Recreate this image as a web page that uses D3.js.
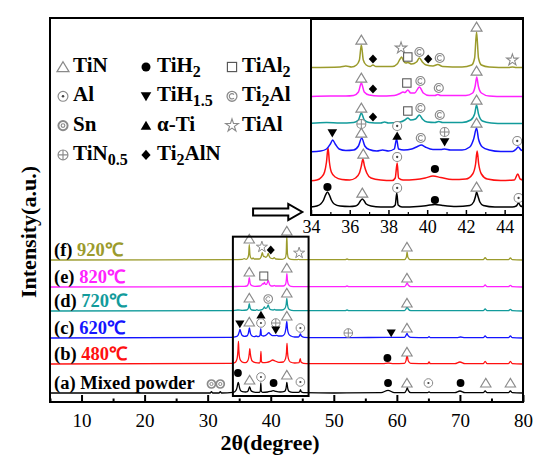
<!DOCTYPE html>
<html>
<head>
<meta charset="utf-8">
<script src="https://cdn.jsdelivr.net/npm/d3@7"></script>
<style>
body{margin:0;background:#fff;}
</style>
</head>
<body>
<div id="chart"></div>
<script>
// samples, bottom to top
const sampleTags = ["(a)", "(b)", "(c)", "(d)", "(e)", "(f)"];
const sampleNames = ["Mixed powder", "480℃", "620℃", "720℃", "820℃", "920℃"];
const sampleColors = ["#000000", "#ff1010", "#1414ff", "#129b9b", "#ff22ff", "#9b9b2c"];
const mainOffsets = [13.5, 57, 96, 136.5, 172.5, 213];
const insetOffsets = [7, 33, 62, 91, 118, 147];

const mainTicks = [10, 20, 30, 40, 50, 60, 70, 80];
const mainMinor = [5, 15, 25, 35, 45, 55, 65, 75];
const insetTicks = [34, 36, 38, 40, 42, 44];
const insetMinor = [35, 37, 39, 41, 43];

// [2theta, intensity]
const patternA = [[5,0],[29,0],[30.4,0],[30.6,2],[30.8,0],[31.8,0],[32.0,2],[32.2,0],[34.0,1],[34.3,2],[34.5,4],[34.65,8],[34.75,13],[34.85,16],[34.95,13],[35.05,8],[35.2,4],[35.5,2],[36.0,1.5],[36.3,2],[36.45,4],[36.55,7],[36.65,9],[36.75,7],[36.85,4],[37.1,2],[37.6,1],[38.2,1],[38.35,3],[38.43,15],[38.5,3],[38.7,1],[39.5,1.5],[40.0,2.5],[40.4,3.5],[40.8,2.5],[41.5,1.5],[42.2,2.5],[42.4,6],[42.5,12],[42.55,16],[42.62,12],[42.72,6],[42.9,2.5],[43.5,1],[44.4,1],[44.6,2],[44.72,5],[44.82,2],[45.2,0.5],[50,0],[57.5,0.5],[58.6,4],[59.6,0.5],[61.2,0.5],[61.5,4],[61.65,8],[61.8,4],[62.2,0.5],[64.9,0.5],[65.1,1.5],[65.3,0.5],[69.2,0.5],[70.0,3],[70.8,0.5],[73.7,0.5],[74.0,3],[74.3,0.5],[77.7,0.5],[78.0,3],[78.3,0.5],[80,0]];
const patternB = [[5,0],[33.8,1],[34.3,2],[34.55,5],[34.7,10],[34.8,20],[34.88,34],[34.95,20],[35.05,10],[35.25,5],[35.6,2.5],[36.0,2],[36.3,4],[36.5,9],[36.6,16],[36.68,23],[36.76,16],[36.88,9],[37.1,4],[37.6,2],[38.2,1.5],[38.35,4],[38.45,19],[38.52,4],[38.75,2],[39.4,2.5],[39.9,4],[40.3,6],[40.7,4.5],[41.3,2.5],[42.0,3],[42.35,8],[42.5,18],[42.58,31],[42.66,18],[42.8,8],[43.1,3],[43.8,1.5],[44.5,2],[44.68,8],[44.8,3],[45.2,1],[46,0.5],[57.8,0.5],[58.6,1.5],[59.5,0.5],[61.2,1],[61.45,5],[61.62,13],[61.8,5],[62.2,1],[64.9,0.5],[65.1,3],[65.3,0.5],[69.2,0.5],[70,3],[70.8,0.5],[73.7,0.5],[74.0,4],[74.3,0.5],[77.7,0.5],[78.0,4],[78.3,0.5],[80,0]];
const patternC = [[5,0],[33.8,1],[34.5,2],[34.8,4],[35.0,9],[35.12,13],[35.25,9],[35.45,4],[35.8,2.5],[36.2,3],[36.45,7],[36.62,15],[36.78,7],[37.0,3.5],[37.4,2],[37.7,3],[38.0,2],[38.3,4],[38.42,14],[38.52,4],[38.8,3],[39.2,4],[39.5,6.5],[39.7,8],[39.9,6],[40.3,3.5],[40.7,3.5],[40.9,4],[41.2,3],[41.8,3],[42.2,6],[42.4,14],[42.55,25],[42.65,14],[42.85,6],[43.2,3],[43.8,1.5],[44.4,1.5],[44.6,4],[44.7,6],[44.85,3],[45.3,1],[47,0.5],[52.3,0.5],[58.8,1],[61.2,1],[61.45,4],[61.6,7],[61.75,4],[62.2,1],[64.9,0.5],[65.1,2],[65.3,0.5],[69.5,0.5],[70.1,1.5],[70.8,0.5],[73.7,0.5],[74,3],[74.3,0.5],[77.7,0.5],[78.0,3],[78.3,0.5],[80,0]];
const patternD = [[5,0],[33.8,0.5],[34.8,1.5],[35.5,1],[36.2,1.5],[36.45,4],[36.6,11],[36.75,4],[37.0,1.5],[37.6,1],[37.8,2],[38.0,1],[38.6,2],[38.85,4],[39.0,6],[39.15,4],[39.4,5],[39.6,9],[39.75,5],[40.0,2],[40.4,1.5],[40.6,2.5],[40.8,1.5],[41.8,1.5],[42.25,4],[42.45,10],[42.55,19],[42.65,10],[42.85,3],[43.3,1],[44.0,0.5],[45,0.5],[51.8,0.5],[52.1,1.5],[52.4,0.5],[61.2,0.5],[61.45,3],[61.62,6],[61.8,3],[62.2,0.5],[73.7,0.5],[74,3],[74.3,0.5],[77.7,0.5],[78,2.5],[78.3,0.5],[80,0]];
const patternE = [[5,0],[34,0.5],[35,1],[35.8,1],[36.2,1.5],[36.45,5],[36.6,14],[36.75,5],[37.0,2],[37.5,1],[38.3,1.5],[38.6,3.5],[38.75,5],[38.85,4.5],[39.0,7],[39.15,4],[39.35,4],[39.6,10],[39.8,4],[40.1,1.5],[40.4,1.5],[40.55,2.5],[40.7,1.5],[42.0,1.5],[42.35,4],[42.48,11],[42.56,20],[42.64,11],[42.8,4],[43.2,1],[44,0.5],[45,0.5],[51.8,0.5],[52.1,1.5],[52.4,0.5],[61.2,0.5],[61.45,3],[61.62,6],[61.8,3],[62.2,0.5],[73.7,0.5],[74,3],[74.3,0.5],[77.7,0.5],[78,2.5],[78.3,0.5],[80,0]];
const patternF = [[5,0],[34,0.5],[35.5,1],[35.8,2],[36.1,1],[36.35,3],[36.5,8],[36.6,23],[36.7,8],[36.85,3],[37.05,1.5],[37.2,3],[37.35,1.5],[38.2,1.5],[38.45,4],[38.6,9],[38.68,11],[38.78,7],[38.9,5],[39.0,5.5],[39.2,4],[39.45,6],[39.6,10],[39.75,6],[39.95,3],[40.3,2],[40.55,3.5],[40.8,1.5],[41.8,1],[42.3,3],[42.45,10],[42.55,36],[42.65,10],[42.8,3],[43.2,1],[44.2,0.5],[44.4,1],[44.6,0.5],[46,0.5],[51.8,0.5],[52.1,1.5],[52.4,0.5],[61.2,0.5],[61.5,4],[61.62,12],[61.75,4],[62.1,0.5],[73.7,0.5],[74,3.5],[74.3,0.5],[77.7,0.5],[78.0,3],[78.3,0.5],[80,0]];
const patterns = [patternA, patternB, patternC, patternD, patternE, patternF];

// phase marks: [sample, 2theta, mark, level above the curve's offset]
const mainMarks = [
  [0,30.6,"sn",13.5],[0,32.0,"sn",13.5],[0,34.8,"dot",30],[0,36.65,"tri",19.5],[0,38.45,"odot",24],[0,40.45,"dot",15],[0,42.55,"tri",27],[0,44.7,"odot",16.5],
  [0,58.6,"dot",15],[0,61.6,"tri",15],[0,65.0,"odot",15],[0,70.1,"dot",15],[0,74.1,"tri",15],[0,78.0,"tri",15],
  [1,58.5,"dot",9],[1,61.6,"tri",18],
  [2,35.1,"vtri",21],[2,36.6,"tri",24],[2,38.45,"atri",34.5],[2,38.45,"odot",22.5],[2,40.8,"oplus",22.5],[2,40.8,"vtri",12],[2,42.55,"tri",33],[2,44.7,"odot",15],
  [2,52.3,"oplus",7.5],[2,59.1,"vtri",7.5],[2,61.6,"tri",15],
  [3,36.6,"tri",19.5],[3,39.6,"cc",18],[3,42.55,"tri",27],[3,61.6,"tri",12],
  [4,36.6,"tri",22.5],[4,38.9,"sq",16.5],[4,42.55,"tri",28.5],[4,61.6,"tri",13.5],
  [5,36.6,"tri",31.5],[5,38.6,"star",19.5],[5,40.0,"dia",15],[5,42.55,"tri",43.5],[5,44.5,"star",10.5],[5,61.6,"tri",19.5]
];
const insetMarks = [
  [0,34.85,"dot",21],[0,36.65,"tri",15],[0,38.45,"odot",20],[0,40.4,"dot",8],[0,42.55,"tri",21],[0,44.72,"odot",10],
  [1,36.7,"tri",28],[1,38.45,"odot",25],[1,40.4,"dot",13],
  [2,35.1,"vtri",20],[2,36.6,"oplus",29],[2,36.6,"tri",20],[2,38.45,"odot",27],[2,38.45,"atri",17],[2,39.67,"cc",15],[2,40.9,"oplus",21],[2,40.9,"vtri",11],[2,42.55,"tri",30],[2,44.65,"odot",12],
  [3,36.6,"tri",16],[3,37.2,"dia",7],[3,39.0,"sq",13],[3,39.65,"cc",16],[3,40.65,"cc",9],[3,42.55,"tri",24],
  [4,36.6,"tri",19],[4,37.2,"dia",8],[4,38.95,"sq",14],[4,39.65,"cc",16],[4,40.6,"cc",9],[4,42.55,"tri",26],
  [5,36.6,"tri",28],[5,37.2,"dia",9],[5,38.65,"star",20],[5,39.0,"sq",11],[5,39.6,"cc",16],[5,40.05,"dia",9],[5,40.65,"cc",10],[5,42.55,"tri",41],[5,44.4,"star",8]
];

// legend, column by column
const legendMarks = ["tri","odot","sn","oplus","dot","vtri","atri","dia","sq","cc","star"];
const legendLabels = [
  [["TiN",0]], [["Al",0]], [["Sn",0]], [["TiN",0],["0.5",1]],
  [["TiH",0],["2",1]], [["TiH",0],["1.5",1]], [["α-Ti",0]], [["Ti",0],["2",1],["AlN",0]],
  [["TiAl",0],["2",1]], [["Ti",0],["2",1],["Al",0]], [["TiAl",0]]
];

const W = 533, H = 458;
const FONT = "Liberation Serif";
const svg = d3.select("#chart").append("svg").attr("width", W).attr("height", H)
  .attr("font-family", FONT);

const x = d3.scaleLinear().domain([5, 80]).range([50, 523]);
const y = d3.scaleLinear().domain([0, 576]).range([402, 18]);
const xi = d3.scaleLinear().domain([34, 45]).range([311, 524]);
const yi = d3.scaleLinear().domain([0, 196]).range([215, 19]);

function drawMark(g, type, px, py, k) {
  const s = g.append("g").attr("transform", `translate(${px},${py}) scale(${k})`);
  const grey = "#8a8a8a";
  if (type === "tri") {
    s.append("path").attr("d", "M0,-4.6L5.2,4L-5.2,4Z").attr("fill", "#fff").attr("stroke", grey).attr("stroke-width", 1.1);
  } else if (type === "dot") {
    s.append("circle").attr("r", 3.9).attr("fill", "#000");
  } else if (type === "sq") {
    s.append("rect").attr("x", -4).attr("y", -4).attr("width", 8).attr("height", 8)
      .attr("fill", "#fff").attr("stroke", "#555").attr("stroke-width", 1);
  } else if (type === "odot") {
    s.append("circle").attr("r", 4.3).attr("fill", "#fff").attr("stroke", grey).attr("stroke-width", 1);
    s.append("circle").attr("r", 1.1).attr("fill", "#444");
  } else if (type === "vtri") {
    s.append("path").attr("d", "M-4.6,-3.6L4.6,-3.6L0,4.2Z").attr("fill", "#000");
  } else if (type === "atri") {
    s.append("path").attr("d", "M0,-4.2L4.6,3.6L-4.6,3.6Z").attr("fill", "#000");
  } else if (type === "cc") {
    s.append("circle").attr("r", 4.3).attr("fill", "#fff").attr("stroke", grey).attr("stroke-width", 1.1);
    s.append("path").attr("d", "M1.7,-1.5A2.3,2.3 0 1 0 1.7,1.5").attr("fill", "none").attr("stroke", grey).attr("stroke-width", 1);
  } else if (type === "sn") {
    s.append("circle").attr("r", 4).attr("fill", "#fff").attr("stroke", grey).attr("stroke-width", 1.7);
    s.append("circle").attr("r", 1.6).attr("fill", "none").attr("stroke", grey).attr("stroke-width", 1);
  } else if (type === "star") {
    s.append("path").attr("d", d3.symbol(d3.symbolStar, 38)()).attr("fill", "#fff").attr("stroke", grey).attr("stroke-width", 1);
  } else if (type === "oplus") {
    s.append("circle").attr("r", 4.3).attr("fill", "#fff").attr("stroke", grey).attr("stroke-width", 1);
    s.append("path").attr("d", "M-4.3,0H4.3M0,-4.3V4.3").attr("stroke", grey).attr("stroke-width", 1);
  } else if (type === "dia") {
    s.append("path").attr("d", "M0,-4.4L4,0L0,4.4L-4,0Z").attr("fill", "#000");
  }
}

// main patterns
const mainG = svg.append("g");
patterns.forEach((p, i) => {
  const line = d3.line().x(d => x(d[0])).y(d => y(d[1] + mainOffsets[i])).curve(d3.curveMonotoneX);
  mainG.append("path").datum(p).attr("d", line)
    .attr("fill", "none").attr("stroke", sampleColors[i]).attr("stroke-width", 1.3);
});
mainMarks.forEach(m => drawMark(mainG, m[2], x(m[1]), y(mainOffsets[m[0]] + m[3]), 1));

// sample labels
sampleTags.forEach((t, i) => {
  const tx = svg.append("text").attr("x", 54).attr("y", y(mainOffsets[i]) - 4)
    .attr("font-family", FONT).attr("font-size", 18.5).attr("font-weight", "bold");
  tx.append("tspan").attr("fill", "#000").text(t + " ");
  tx.append("tspan").attr("fill", i === 0 ? "#000" : sampleColors[i]).text(sampleNames[i]);
});

// box around the zoomed range
svg.append("rect")
  .attr("x", x(34)).attr("y", y(248)).attr("width", x(46) - x(34)).attr("height", y(9) - y(248))
  .attr("fill", "none").attr("stroke", "#000").attr("stroke-width", 2);

// hollow arrow
{
  const x0 = x(37.2), x1 = x(45.0), yc = y(285), xh = x1 - 14;
  svg.append("path")
    .attr("d", `M${x0},${yc - 3.5}H${xh}V${yc - 8}L${x1},${yc}L${xh},${yc + 8}V${yc + 3.5}H${x0}Z`)
    .attr("fill", "#fff").attr("stroke", "#000").attr("stroke-width", 2);
}

// main frame and axis
svg.append("rect").attr("x", 50).attr("y", 18).attr("width", 473).attr("height", 384)
  .attr("fill", "none").attr("stroke", "#000").attr("stroke-width", 2);

const ax = svg.append("g").attr("transform", "translate(0,402)")
  .call(d3.axisBottom(x).tickValues(mainTicks).tickSize(-7).tickPadding(11.5).tickFormat(d3.format("d")));
ax.attr("font-family", FONT);
ax.select(".domain").remove();
ax.selectAll("line").attr("stroke", "#000").attr("stroke-width", 2);
ax.selectAll("text").attr("font-family", FONT).attr("font-size", 19).attr("fill", "#000");
const axm = svg.append("g").attr("transform", "translate(0,402)")
  .call(d3.axisBottom(x).tickValues(mainMinor).tickSize(-3.5).tickFormat(""));
axm.select(".domain").remove();
axm.selectAll("line").attr("stroke", "#000").attr("stroke-width", 2);

svg.append("text").attr("x", 270).attr("y", 450).attr("text-anchor", "middle")
  .attr("font-family", FONT).attr("font-size", 22).attr("font-weight", "bold").text("2θ(degree)");
svg.append("text").attr("transform", "translate(36,232) rotate(-90)").attr("text-anchor", "middle")
  .attr("font-family", FONT).attr("font-size", 22).attr("font-weight", "bold").text("Intensity(a.u.)");

// legend
legendMarks.forEach((m, i) => {
  const col = Math.floor(i / 4), row = i % 4;
  const sx = [63, 146, 232][col], tx = [73, 157, 242][col];
  const by = 72 + row * 29.3;
  drawMark(svg, m, sx, by - 5, 1.15);
  const t = svg.append("text").attr("x", tx).attr("y", by)
    .attr("font-family", FONT).attr("font-size", 21).attr("font-weight", "bold");
  let shifted = false;
  legendLabels[i].forEach(seg => {
    const sp = t.append("tspan").text(seg[0]);
    if (seg[1]) { sp.attr("font-size", 16).attr("dy", 5); shifted = true; }
    else if (shifted) { sp.attr("dy", -5); shifted = false; }
  });
});

// inset
const inset = svg.append("g");
inset.append("rect").attr("x", 311).attr("y", 19).attr("width", 212).attr("height", 196).attr("fill", "#fff");
svg.append("clipPath").attr("id", "insetClip").append("rect")
  .attr("x", 311).attr("y", 19).attr("width", 212).attr("height", 196);
const insetPlot = inset.append("g").attr("clip-path", "url(#insetClip)");
patterns.forEach((p, i) => {
  const line = d3.line().x(d => xi(d[0])).y(d => yi(d[1] + insetOffsets[i])).curve(d3.curveMonotoneX);
  insetPlot.append("path").datum(p.filter(d => d[0] >= 33 && d[0] <= 46)).attr("d", line)
    .attr("fill", "none").attr("stroke", sampleColors[i]).attr("stroke-width", 1.5);
});
insetMarks.forEach(m => drawMark(inset, m[2], xi(m[1]), yi(insetOffsets[m[0]] + m[3]), 1.05));

inset.append("rect").attr("x", 311).attr("y", 19).attr("width", 212).attr("height", 196)
  .attr("fill", "none").attr("stroke", "#000").attr("stroke-width", 2);
const iax = inset.append("g").attr("transform", "translate(0,215)")
  .call(d3.axisBottom(xi).tickValues(insetTicks).tickSize(-5).tickPadding(5.5).tickFormat(d3.format("d")));
iax.attr("font-family", FONT);
iax.select(".domain").remove();
iax.selectAll("line").attr("stroke", "#000").attr("stroke-width", 1.5);
iax.selectAll("text").attr("font-family", FONT).attr("font-size", 18).attr("fill", "#000");
const iaxm = inset.append("g").attr("transform", "translate(0,215)")
  .call(d3.axisBottom(xi).tickValues(insetMinor).tickSize(-3).tickFormat(""));
iaxm.select(".domain").remove();
iaxm.selectAll("line").attr("stroke", "#000").attr("stroke-width", 1.2);
</script>
</body>
</html>
